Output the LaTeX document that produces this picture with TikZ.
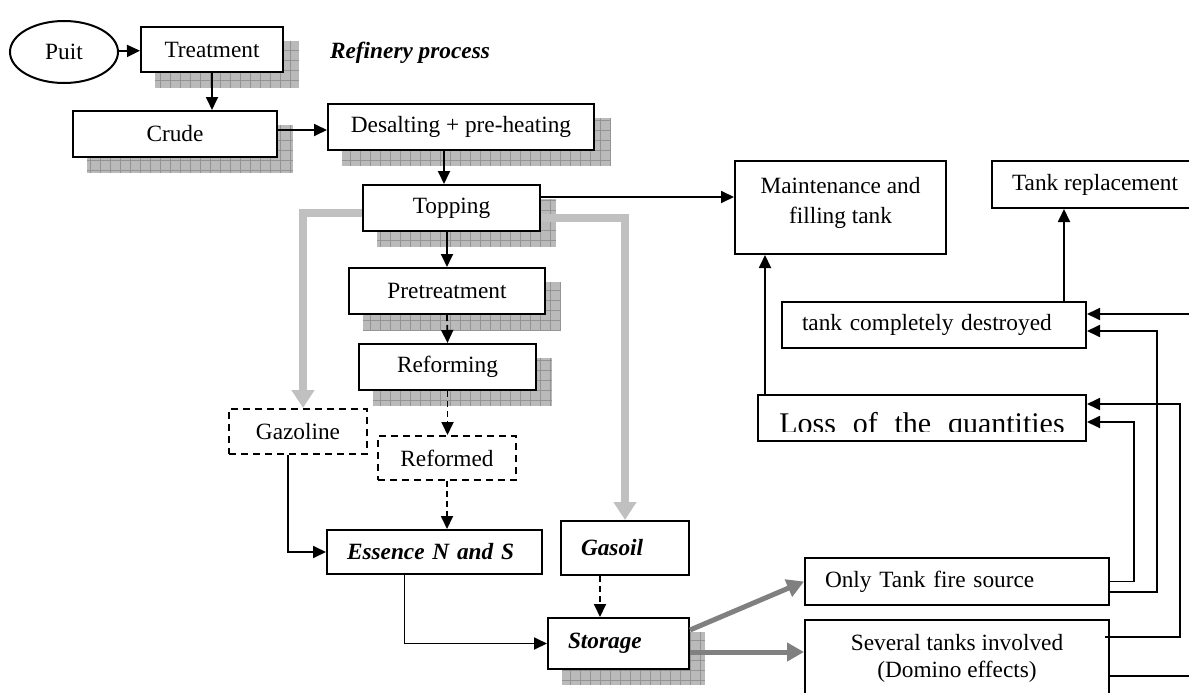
\documentclass[tikz,border=0pt]{standalone}
\usepackage{fontspec}
\setmainfont{Liberation Serif}
\usetikzlibrary{arrows.meta,positioning,calc,shapes.geometric,backgrounds}
\definecolor{barlight}{RGB}{192,192,192}
\definecolor{bardark}{RGB}{128,128,128}

\begin{document}
\begin{tikzpicture}[x=1pt,y=-1pt,
    box/.style={rectangle,draw,fill=white,line width=2pt,inner sep=0pt,
        font=\fontsize{23.3}{27}\selectfont},
    dashbox/.style={box,dash pattern=on 7pt off 5pt},
    leftbox/.style={box,align=left,inner xsep=20pt},
    boldbox/.style={leftbox,font=\fontsize{23.3}{27}\selectfont\bfseries\itshape},
    arr/.style={line width=1.8pt,-{Triangle[length=13pt,width=12pt]}},
    dasharr/.style={arr,dash pattern=on 6pt off 4pt},
    graybar/.style={line width=8pt,barlight,-{Triangle[length=18pt,width=22pt]}},
    darkbar/.style={line width=5pt,bardark,-{Triangle[length=17pt,width=18pt]}},
    shadowfill/.style={fill=black!27},
    shadowgrid/.style={draw=black!42,line width=0.7pt,step=10pt}
]
\useasboundingbox (0,0) rectangle (1189,693);
\clip (0,0) rectangle (1189,693);

% refinery chain
\node[ellipse,draw,line width=2pt,minimum width=108,minimum height=62,inner sep=0pt,
    font=\fontsize{23.3}{27}\selectfont] (puit) at (64,52) {Puit};
\node[box,minimum width=142,minimum height=45] (treat) at (212,49.5) {Treatment};
\node[font=\fontsize{23.3}{27}\selectfont\bfseries\itshape] (title) at (410,53) {Refinery process};
\node[box,minimum width=204,minimum height=46] (crude) at (175,134) {Crude};
\node[box,minimum width=266,minimum height=46] (desalt) at (461,127) {Desalting + pre-heating};
\node[box,minimum width=177,minimum height=46] (topping) at (451.5,208) {Topping};
\node[box,minimum width=196,minimum height=46] (pretreat) at (447,291) {Pretreatment};
\node[box,minimum width=177,minimum height=46] (reform) at (447.5,367) {Reforming};
\node[dashbox,minimum width=138,minimum height=45] (gazoline) at (298,431.5) {Gazoline};
\node[dashbox,minimum width=138,minimum height=44] (reformed) at (447,458) {Reformed};
\node[boldbox,text width=175,minimum height=44] (essence) at (434.5,552) {Essence N and S};
\node[boldbox,text width=88,minimum height=54] (gasoil) at (625,548) {Gasoil};
\node[boldbox,text width=101,minimum height=51] (storage) at (618.5,643.5) {Storage};

% consequences
\node[box,align=center,minimum width=211,minimum height=93] (maint) at (840.5,207.5)
    {Maintenance and\\[3pt]filling tank\\[-13pt]};
\node[box,minimum width=206,minimum height=47] (tankrep) at (1095,184.5) {Tank replacement};
\node[leftbox,text width=264,minimum height=46] (destroyed) at (934,325) {tank completely destroyed};
\node[box,minimum width=328,minimum height=46] (loss) at (922,418) {};
\begin{scope}
\clip (loss.north west) rectangle ([yshift=11pt]loss.south east);
\node[anchor=base,inner sep=0pt,font=\fontsize{30}{34}\selectfont] (losstext) at (922,433)
    {\spaceskip=0.56em Loss of the quantities};
\end{scope}
\node[leftbox,text width=264,minimum height=47] (only) at (957,581.5) {Only Tank fire source};
\node[box,align=center,minimum width=304,minimum height=76] (several) at (957,658)
    {Several tanks involved\\(Domino effects)};

\begin{scope}[on background layer]
\foreach \n in {treat,crude,desalt,topping,pretreat,reform,storage}{
    \fill[shadowfill] ($(\n.north west)+(15,15)$) rectangle ($(\n.south east)+(15,15)$);
    \draw[shadowgrid] ($(\n.north west)+(15,15)$) grid ($(\n.south east)+(15,15)$);
}
\end{scope}

\coordinate (crudeout) at ([yshift=4pt]crude.east);
\coordinate (desaltout) at ([xshift=-17pt]desalt.south);
\coordinate (topout) at ([yshift=11pt]topping.east);
\coordinate (gazout) at ([xshift=-10pt]gazoline.south);
\coordinate (essout) at ([xshift=-30pt]essence.south);
\coordinate (gasout) at ([xshift=-25pt]gasoil.south);
\coordinate (losstop) at ([xshift=8pt]loss.north west);
\coordinate (destop) at ([xshift=-23pt]destroyed.north east);

\path[arr]
    (puit) edge (treat)
    (treat.south) edge (treat.south |- crude.north)
    (crudeout) edge (crudeout -| desalt.west)
    (desaltout) edge (desaltout |- topping.north)
    (pretreat.north |- topping.south) edge (pretreat.north)
    (topout) edge (topout -| maint.west)
    (losstop) edge (losstop |- maint.south)
    (destop) edge (destop |- tankrep.south);

\path[dasharr]
    (pretreat.south) edge (reform.north)
    (reform.south) edge (reform.south |- reformed.north)
    (reformed.south) edge (reformed.south |- essence.north)
    (gasout) edge (gasout |- storage.north);

\draw[arr] (gazout) |- (essence.west);
\draw[arr] (essout) |- (storage.west);

% side streams of the topping
\draw[graybar] ([yshift=-5pt]topping.west) -| ([xshift=5pt]gazoline.north);
\draw[graybar] ([yshift=-10pt]topping.east) -| (gasoil.north);

% storage outcomes
\coordinate (sthigh) at ([yshift=13.5pt]storage.east);
\coordinate (stlow) at ([yshift=-8.5pt]storage.east);
\draw[darkbar] (sthigh) -- (only.west);
\draw[darkbar] (stlow) -- (stlow -| several.west);

\coordinate (losslow) at ([yshift=-4pt]loss.east);
\coordinate (losshigh) at ([yshift=14pt]loss.east);
\coordinate (deslow) at ([yshift=-6pt]destroyed.east);
\coordinate (deshigh) at ([yshift=11pt]destroyed.east);
\coordinate (onlylow) at ([yshift=-10.5pt]only.east);
\coordinate (sevhigh) at ([yshift=21pt,xshift=-5pt]several.east);
\coordinate (sevlow) at ([yshift=-18pt]several.east);

\draw[arr] (only.east) -- ++(24,0) |- (losslow);
\draw[arr] (onlylow) -- ++(47,0) |- (deslow);
\draw[arr] (sevhigh) -- ++(75,0) |- (losshigh);
\draw[arr] (sevlow) -- ++(90,0) |- (deshigh);
\end{tikzpicture}
\end{document}
